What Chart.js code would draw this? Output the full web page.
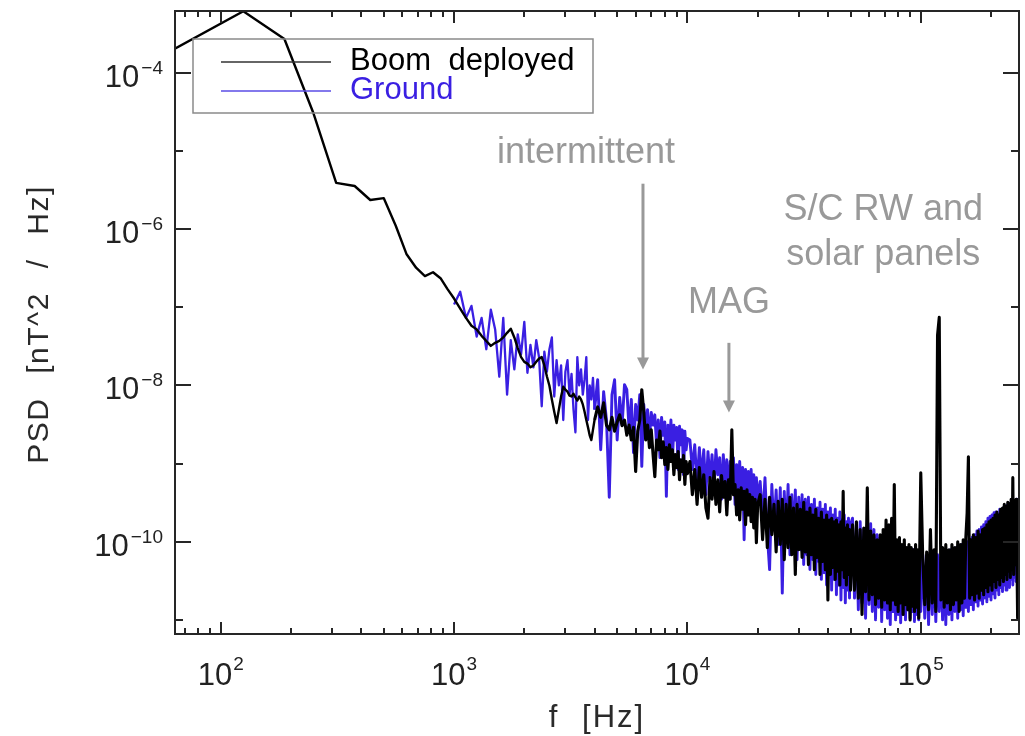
<!DOCTYPE html>
<html>
<head>
<meta charset="utf-8">
<script src="https://cdn.jsdelivr.net/npm/chart.js@4"></script>
<style>
html,body{margin:0;padding:0;background:#ffffff;}
canvas{display:block;}
</style>
</head>
<body>
<canvas id="c" width="1025" height="736"></canvas>
<script>
// ---------------- DATA (frequency in Hz, PSD in nT^2/Hz) ----------------
const freqLow = [62.5, 125, 187.5, 250, 312.5, 375, 437.5, 500, 562.5, 625, 687.5, 750, 812.5, 875, 937.5];
const boomLow = [1.97e-4, 6.1e-4, 2.7e-4, 3.0e-5, 3.9e-6, 3.55e-6, 2.35e-6, 2.48e-6, 1.1e-6, 4.8e-7, 3.2e-7, 2.5e-7, 2.8e-7, 2.35e-7, 1.7e-7];

const freqA = [1000, 1062.5, 1125, 1187.5, 1250, 1312.5, 1375, 1437.5, 1500, 1562.5, 1625, 1687.5, 1750, 1812.5, 1875, 1937.5, 2000, 2062.5, 2125, 2187.5, 2250, 2312.5, 2375, 2437.5, 2500, 2562.5, 2625, 2687.5, 2750, 2812.5, 2875, 2937.5, 3000, 3062.5, 3125, 3187.5, 3250, 3312.5, 3375, 3437.5, 3500, 3562.5, 3625, 3687.5, 3750, 3812.5, 3875, 3937.5, 4000];
const boomA = [1.29e-7, 9.6e-8, 7.3e-8, 5.8e-8, 5.2e-8, 4.3e-8, 3.7e-8, 3.2e-8, 3.5e-8, 3.7e-8, 4.1e-8, 4.7e-8, 5.3e-8, 4.1e-8, 3.0e-8, 2.3e-8, 2.0e-8, 1.9e-8, 1.7e-8, 1.8e-8, 2.0e-8, 2.2e-8, 2.3e-8, 1.8e-8, 1.3e-8, 9.9e-9, 6.6e-9, 4.6e-9, 3.3e-9, 4.9e-9, 7.2e-9, 9.6e-9, 8.8e-9, 8.3e-9, 7.4e-9, 7.2e-9, 7.8e-9, 7.0e-9, 6.4e-9, 7.2e-9, 6.6e-9, 5.7e-9, 4.6e-9, 3.6e-9, 2.9e-9, 2.3e-9, 2.0e-9, 2.7e-9, 3.6e-9];
const groundA = [1.08e-7, 1.58e-7, 7.3e-8, 1.04e-7, 4.2e-8, 7.3e-8, 2.9e-8, 9.3e-8, 5.2e-8, 1.29e-8, 7.3e-8, 7.6e-9, 3.8e-8, 1.6e-8, 4.5e-8, 2.5e-8, 6.5e-8, 1.45e-8, 3.3e-8, 1.7e-8, 3.8e-8, 2.3e-8, 5.4e-9, 2.7e-8, 1.5e-8, 2.9e-8, 4.1e-8, 7.2e-9, 2.1e-8, 1.0e-8, 1.8e-8, 3.6e-9, 1.5e-8, 2.1e-8, 7.6e-9, 1.4e-8, 4.9e-9, 2.5e-9, 2.3e-8, 1.0e-8, 1.6e-8, 7.6e-9, 1.2e-8, 2.3e-8, 3.6e-9, 1.0e-8, 6.6e-9, 1.25e-8, 4.9e-9];

const freqB = [4125, 4250, 4375, 4500, 4625, 4750, 4875, 5000, 5125, 5250, 5375, 5500, 5625, 5750, 5875, 6000, 6125, 6250, 6375, 6500, 6625, 6750, 6875, 7000, 7125, 7250, 7375, 7500, 7625, 7750, 7875, 8000, 8125, 8250, 8375, 8500, 8625, 8750, 8875, 9000, 9125, 9250, 9375, 9500, 9625, 9750, 9875, 10000];
const boomB = [5.3e-9, 3.9e-9, 6.0e-9, 3.1e-9, 2.7e-9, 3.9e-9, 2.6e-9, 3.4e-9, 4.2e-9, 3.05e-9, 3.6e-9, 2.3e-9, 3.1e-9, 2.0e-9, 2.9e-9, 7.9e-10, 2.6e-9, 3.6e-9, 8.8e-9, 4.6e-9, 2.0e-9, 3.1e-9, 1.6e-9, 2.7e-9, 1.3e-9, 6.8e-10, 2.0e-9, 1.5e-9, 2.6e-9, 1.19e-9, 1.9e-9, 9.7e-10, 1.6e-9, 8.4e-10, 1.74e-9, 1.06e-9, 1.5e-9, 7.2e-10, 1.3e-9, 8.9e-10, 1.42e-9, 6.2e-10, 1.12e-9, 7.9e-10, 1.27e-9, 5.4e-10, 1.06e-9, 7.4e-10];
const groundB = [1.18e-8, 1.5e-9, 8.3e-9, 3.6e-9, 3.7e-10, 7.6e-9, 1.18e-8, 2.0e-9, 7.0e-9, 3.1e-9, 1.02e-8, 8.8e-9, 2.7e-9, 6.6e-9, 1.38e-9, 5.7e-9, 3.6e-9, 7.6e-9, 9.2e-10, 5.7e-9, 2.7e-9, 4.9e-9, 2.0e-9, 4.5e-9, 3.1e-9, 4.2e-9, 1.74e-9, 3.6e-9, 1.19e-9, 3.9e-9, 2.3e-9, 3.4e-9, 3.8e-10, 3.1e-9, 1.74e-9, 3.6e-9, 1.06e-9, 3.1e-9, 2.0e-9, 2.9e-9, 8.4e-10, 3.0e-9, 1.74e-9, 2.7e-9, 7.2e-10, 2.6e-9, 1.5e-9, 2.1e-9];

const freqC = [10250, 10500, 10750, 11000, 11250, 11500, 11750, 12000, 12250, 12500, 12750, 13000, 13250, 13500, 13750, 14000, 14250, 14500, 14750, 15000, 15250, 15500, 15750, 16000, 16250, 16500, 16750, 17000, 17250, 17500, 17750, 18000, 18250, 18500, 18750, 19000, 19250, 19500, 19750, 20000];
const boomC = [1.06e-9, 4.0e-10, 8.4e-10, 3.0e-10, 8.9e-10, 3.7e-10, 7.2e-10, 2.7e-10, 2.0e-10, 6.6e-10, 3.5e-10, 7.9e-10, 3.0e-10, 6.2e-10, 2.4e-10, 7.0e-10, 3.7e-10, 5.9e-10, 2.2e-10, 6.2e-10, 3.5e-10, 2.7e-9, 4.0e-10, 5.4e-10, 2.2e-10, 4.6e-10, 1.9e-10, 4.9e-10, 2.6e-10, 4.4e-10, 1.65e-10, 4.6e-10, 2.2e-10, 4.0e-10, 1.8e-10, 3.7e-10, 1.5e-10, 3.5e-10, 9.7e-11, 3.0e-10];
const groundC = [2.0e-9, 8.4e-10, 1.74e-9, 5.4e-10, 1.6e-9, 6.6e-10, 1.5e-9, 4.0e-10, 1.42e-9, 5.9e-10, 1.3e-9, 4.6e-10, 1.5e-9, 7.2e-10, 1.19e-9, 3.5e-10, 1.3e-9, 5.4e-10, 1.12e-9, 4.0e-10, 1.06e-9, 6.2e-10, 1.19e-9, 3.0e-10, 9.7e-10, 4.6e-10, 1.06e-9, 3.5e-10, 8.9e-10, 1.06e-10, 8.4e-10, 4.0e-10, 7.9e-10, 3.0e-10, 8.4e-10, 3.7e-10, 7.2e-10, 2.2e-10, 6.6e-10, 3.5e-10];

const freqD = [20500, 21000, 21500, 22000, 22500, 23000, 23500, 24000, 24500, 25000, 25500, 26000, 26500, 27000, 27500, 28000, 28500, 29000, 29500, 30000, 30500, 31000, 31500, 32000, 32500, 33000, 33500, 34000, 34500, 35000, 35500, 36000, 36500, 37000, 37500, 38000, 38500, 39000, 39500, 40000, 40500, 41000, 41500, 42000, 42500, 43000, 43500, 44000, 44500, 45000, 45500, 46000, 46500, 47000, 47500, 48000, 48500, 49000, 49500, 50000];
const boomD = [4.0e-10, 1.06e-10, 3.5e-10, 8.4e-11, 3.7e-10, 1.23e-10, 3.0e-10, 7.4e-11, 3.3e-10, 9.2e-11, 3.5e-10, 5.9e-11, 3.0e-10, 8.4e-11, 3.7e-10, 6.8e-11, 2.7e-10, 3.8e-11, 3.0e-10, 7.9e-11, 2.6e-10, 6.3e-11, 3.2e-10, 7.4e-11, 2.4e-10, 5.1e-11, 2.7e-10, 6.8e-11, 2.2e-10, 4.4e-11, 2.6e-10, 6.3e-11, 2.0e-10, 3.8e-11, 2.4e-10, 5.6e-11, 1.9e-10, 4.4e-11, 2.2e-10, 1.8e-11, 1.9e-10, 3.8e-11, 2.0e-10, 4.7e-11, 1.8e-10, 3.3e-11, 1.9e-10, 4.2e-11, 1.65e-10, 2.8e-11, 1.8e-10, 4.4e-11, 4.4e-10, 3.5e-11, 1.5e-10, 2.8e-11, 1.65e-10, 3.8e-11, 1.43e-10, 2.4e-11];
const groundD = [5.9e-10, 1.9e-10, 6.6e-10, 1.23e-10, 4.4e-11, 5.4e-10, 1.43e-10, 4.6e-10, 9.2e-11, 4.9e-10, 2.2e-11, 4.4e-10, 1.06e-10, 5.4e-10, 6.8e-11, 4.0e-10, 9.2e-11, 4.6e-10, 5.9e-11, 3.7e-10, 7.9e-11, 4.0e-10, 5.1e-11, 3.5e-10, 6.8e-11, 3.7e-10, 4.4e-11, 3.0e-10, 5.9e-11, 3.5e-10, 3.8e-11, 2.7e-10, 5.6e-11, 3.2e-10, 3.3e-11, 2.6e-10, 4.0e-11, 3.0e-10, 2.8e-11, 2.4e-10, 3.8e-11, 2.7e-10, 2.4e-11, 2.2e-10, 3.3e-11, 2.6e-10, 2.1e-11, 2.0e-10, 2.8e-11, 2.4e-10, 1.8e-11, 1.9e-10, 2.6e-11, 2.2e-10, 1.65e-11, 1.8e-10, 2.4e-11, 2.0e-10, 1.9e-11, 1.65e-10];

const freqE = [51000, 52000, 53000, 54000, 55000, 56000, 57000, 58000, 59000, 60000, 61000, 62000, 63000, 64000, 65000, 66000, 67000, 68000, 69000, 70000, 71000, 72000, 73000, 74000, 75000, 76000, 77000, 78000, 79000, 80000, 81000, 82000, 83000, 84000, 85000, 86000, 87000, 88000, 89000, 90000, 91000, 92000, 93000, 94000, 95000, 96000, 97000, 98000, 99000, 100000];
const boomE = [1.65e-10, 2.4e-11, 1.8e-10, 1.9e-11, 1.43e-10, 1.17e-11, 1.5e-10, 2.3e-11, 4.9e-10, 1.8e-11, 1.37e-10, 2.1e-11, 1.23e-10, 1.57e-11, 1.06e-10, 1.9e-11, 1.23e-10, 1.45e-11, 1.43e-10, 1.8e-11, 1.9e-10, 1.65e-11, 1.65e-10, 1.35e-11, 2.0e-10, 1.8e-11, 5.4e-10, 1.57e-11, 1.06e-10, 1.28e-11, 1.13e-10, 1.65e-11, 9.2e-11, 1.17e-11, 1.06e-10, 1.57e-11, 8.4e-11, 1.35e-11, 9.2e-11, 1.0e-11, 8.4e-11, 1.5e-11, 7.9e-11, 1.28e-11, 9.2e-11, 1.45e-11, 7.9e-11, 1.05e-11, 8.4e-11, 7.6e-10];
const groundE = [2.0e-10, 1.9e-11, 1.65e-10, 1.35e-11, 1.8e-10, 1.65e-11, 1.43e-10, 1.05e-11, 1.6e-10, 1.57e-11, 1.7e-10, 1.28e-11, 1.43e-10, 1.0e-11, 1.23e-10, 1.45e-11, 1.13e-10, 9.5e-12, 1.06e-10, 1.35e-11, 1.0e-10, 1.05e-11, 9.2e-11, 8.7e-12, 8.4e-11, 1.28e-11, 9.2e-11, 1.0e-11, 7.9e-11, 1.17e-11, 8.4e-11, 9.2e-12, 7.4e-11, 1.28e-11, 7.9e-11, 1.0e-11, 6.8e-11, 1.35e-11, 7.4e-11, 1.05e-11, 6.8e-11, 1.28e-11, 7.9e-11, 9.5e-12, 6.7e-11, 1.17e-11, 7.4e-11, 1.0e-11, 6.8e-11, 1.28e-11];

const freqF = [102000, 104000, 106000, 108000, 110000, 112000, 114000, 116000, 118000, 120000, 122000, 124000, 126000, 128000, 130000, 132000, 134000, 136000, 138000, 140000, 142000, 144000, 146000, 148000, 150000, 152000, 154000, 156000, 158000, 160000, 162000, 164000, 166000, 168000, 170000, 172000, 174000, 176000, 178000, 180000, 182000, 184000, 186000, 188000, 190000, 192000, 194000, 196000, 198000, 200000, 202000, 204000, 206000, 208000, 210000, 212000, 214000, 216000, 218000, 220000, 222000, 224000, 226000, 228000, 230000, 232000, 234000, 236000, 238000, 240000, 242000, 244000, 246000, 248000, 250000, 252000, 254000, 256000, 258000, 260000, 262000];
const boomF = [5.9e-11, 1.57e-11, 7.4e-11, 1.35e-11, 1.43e-10, 1.65e-11, 7.9e-11, 1.28e-11, 4.4e-8, 7.4e-8, 1.8e-11, 8.4e-11, 1.45e-11, 9.2e-11, 1.65e-11, 7.9e-11, 1.35e-11, 9.2e-11, 1.57e-11, 8.4e-11, 1.8e-11, 1.0e-10, 1.28e-11, 9.2e-11, 1.65e-11, 1.06e-10, 1.9e-11, 1.13e-10, 2.35e-10, 1.22e-9, 1.9e-11, 1.06e-10, 2.1e-11, 1.23e-10, 1.8e-11, 1.13e-10, 2.2e-11, 1.37e-10, 1.9e-11, 1.23e-10, 2.4e-11, 1.43e-10, 2.1e-11, 1.5e-10, 2.6e-11, 1.65e-10, 2.3e-11, 1.8e-10, 2.8e-11, 1.9e-10, 2.4e-11, 2.0e-10, 3.1e-11, 2.2e-10, 2.6e-11, 2.4e-10, 3.3e-11, 2.2e-10, 2.8e-11, 2.6e-10, 3.5e-11, 2.7e-10, 3.1e-11, 3.0e-10, 3.8e-11, 2.8e-10, 3.3e-11, 3.2e-10, 4.2e-11, 3.0e-10, 3.5e-11, 3.5e-10, 4.4e-11, 6.6e-10, 3.8e-11, 3.0e-10, 5.1e-11, 3.5e-10, 8.4e-11, 1.05e-11, 1.07e-11];
const groundF = [6.8e-11, 1.05e-11, 6.3e-11, 8.7e-12, 7.4e-11, 1.17e-11, 5.9e-11, 9.5e-12, 6.8e-11, 1.28e-11, 6.3e-11, 1.0e-11, 7.4e-11, 8.7e-12, 6.8e-11, 1.17e-11, 7.9e-11, 1.0e-11, 7.2e-11, 1.28e-11, 8.4e-11, 1.05e-11, 7.9e-11, 1.35e-11, 9.2e-11, 1.13e-11, 8.4e-11, 1.45e-11, 1.0e-10, 1.28e-11, 1.06e-10, 1.57e-11, 1.13e-10, 1.35e-11, 1.23e-10, 1.7e-11, 1.37e-10, 1.5e-11, 1.43e-10, 1.8e-11, 1.55e-10, 1.6e-11, 1.65e-10, 1.9e-11, 1.8e-10, 1.7e-11, 2.0e-10, 2.0e-11, 2.1e-10, 1.8e-11, 2.2e-10, 2.15e-11, 2.35e-10, 1.9e-11, 2.4e-10, 2.4e-11, 2.2e-10, 2.1e-11, 2.6e-10, 2.6e-11, 2.4e-10, 2.3e-11, 2.7e-10, 2.8e-11, 2.6e-10, 2.4e-11, 2.9e-10, 3.1e-11, 2.7e-10, 2.6e-11, 3.1e-10, 3.3e-11, 2.9e-10, 2.8e-11, 3.3e-10, 3.5e-11, 3.0e-10, 3.1e-11, 3.5e-10, 3.8e-11, 3.0e-10];

// tick labels (base 10 with superscript exponent)
const xTickValues = [1e2, 1e3, 1e4, 1e5];
const xTickExp = ['2', '3', '4', '5'];
const yTickValues = [1e-4, 1e-6, 1e-8, 1e-10];
const yTickExp = ['\u22124', '\u22126', '\u22128', '\u221210'];

// annotations (anchors in data space: Hz, nT^2/Hz)
const noteText = ['intermittent', 'MAG', 'S/C RW and', 'solar panels'];
const noteFreq = [3675, 15060, 69100, 69100];
const notePsd = [7.05e-6, 8.5e-8, 1.31e-6, 3.5e-7];
const arrowFreq = [6450, 15060];
const arrowFrom = [3.8e-6, 3.5e-8];
const arrowTo = [1.59e-8, 4.5e-9];

// axis ranges
const X_MIN = 63.7, X_MAX = 263600;
const Y_MIN = 6.6e-12, Y_MAX = 6.15e-4;

// ---------------- styling ----------------
const BOOM_COLOR = '#000000';
const GROUND_COLOR = '#3a1fe2';
const AXIS_COLOR = '#262626';
const NOTE_COLOR = '#999999';
const FONT = '"Liberation Sans", Arial, Helvetica, sans-serif';

function pts(f, v) { return f.map((x, i) => ({ x: x, y: v[i] })); }
const boomFreq = freqLow.concat(freqA, freqB, freqC, freqD, freqE, freqF);
const boomVals = boomLow.concat(boomA, boomB, boomC, boomD, boomE, boomF);
const groundFreq = freqA.concat(freqB, freqC, freqD, freqE, freqF);
const groundVals = groundA.concat(groundB, groundC, groundD, groundE, groundF);

const frame = {
  id: 'frame',
  afterDraw(chart) {
    const ctx = chart.ctx, a = chart.chartArea, x = chart.scales.x, y = chart.scales.y;
    ctx.save();
    ctx.strokeStyle = AXIS_COLOR;
    ctx.lineWidth = 2;
    ctx.lineCap = 'butt';
    const seg = (x1, y1, x2, y2) => { ctx.beginPath(); ctx.moveTo(x1, y1); ctx.lineTo(x2, y2); ctx.stroke(); };
    ctx.strokeRect(a.left, a.top, a.right - a.left, a.bottom - a.top);

    // x ticks (bottom + top, inward)
    const ex0 = Math.floor(Math.log10(x.min)), ex1 = Math.ceil(Math.log10(x.max));
    for (let e = ex0; e <= ex1; e++) {
      for (let m = 1; m < 10; m++) {
        const v = m * Math.pow(10, e);
        if (v <= x.min || v >= x.max) continue;
        const p = Math.round(x.getPixelForValue(v));
        const len = m === 1 ? 12 : 6;
        seg(p, a.bottom, p, a.bottom - len);
        seg(p, a.top, p, a.top + len);
      }
    }
    // y ticks (left + right, inward)
    const ey0 = Math.ceil(Math.log10(y.min)), ey1 = Math.floor(Math.log10(y.max));
    for (let e = ey0; e <= ey1; e++) {
      const p = Math.round(y.getPixelForValue(Math.pow(10, e)));
      const len = (Math.abs(e) % 2 === 0) ? 16 : 8;
      seg(a.left, p, a.left + len, p);
      seg(a.right, p, a.right - len, p);
    }

    // tick labels
    ctx.fillStyle = '#222222';
    ctx.textBaseline = 'alphabetic';
    ctx.textAlign = 'left';
    const big = '31px ' + FONT, small = '19px ' + FONT;
    xTickValues.forEach((v, i) => {
      const p = x.getPixelForValue(v);
      ctx.font = big; const w1 = ctx.measureText('10').width;
      ctx.font = small; const w2 = ctx.measureText(xTickExp[i]).width;
      const left = p - (w1 + 1 + w2) / 2;
      ctx.font = big; ctx.fillText('10', left, a.bottom + 51);
      ctx.font = small; ctx.fillText(xTickExp[i], left + w1 + 1, a.bottom + 36);
    });
    yTickValues.forEach((v, i) => {
      const p = y.getPixelForValue(v);
      const right = a.left - 12;
      ctx.font = small; const w2 = ctx.measureText(yTickExp[i]).width;
      ctx.font = big; const w1 = ctx.measureText('10').width;
      ctx.fillText('10', right - w2 - 2 - w1, p + 14);
      ctx.font = small; ctx.fillText(yTickExp[i], right - w2, p + 1);
    });

    // axis titles
    ctx.fillStyle = '#2a2a2a';
    ctx.font = '31px ' + FONT;
    ctx.textAlign = 'center';
    try { ctx.letterSpacing = '2px'; ctx.wordSpacing = '12px'; } catch (err) {}
    ctx.fillText('f [Hz]', (a.left + a.right) / 2, a.bottom + 93);
    ctx.save();
    ctx.translate(48, (a.top + a.bottom) / 2 + 2);
    ctx.rotate(-Math.PI / 2);
    ctx.font = '30px ' + FONT;
    try { ctx.letterSpacing = '1.5px'; ctx.wordSpacing = '14px'; } catch (err) {}
    ctx.fillText('PSD [nT^2 / Hz]', 0, 0);
    ctx.restore();
    try { ctx.letterSpacing = '0px'; ctx.wordSpacing = '0px'; } catch (err) {}

    // legend (inside plot, unfilled box)
    const bx = a.left + 18, by = a.top + 28;
    ctx.strokeStyle = '#8a8a8a';
    ctx.lineWidth = 1.5;
    ctx.strokeRect(bx, by, 400, 74);
    ctx.textAlign = 'left';
    ctx.font = '31px ' + FONT;
    chart.data.datasets.forEach((ds, i) => {
      const ly = by + 23 + i * 29;
      ctx.strokeStyle = i === 0 ? '#333333' : '#5a4de6';
      ctx.lineWidth = 1.3;
      seg(bx + 28, ly, bx + 138, ly);
      ctx.fillStyle = ds.borderColor;
      try { ctx.wordSpacing = '9px'; } catch (err) {}
      ctx.fillText(ds.label, bx + 157, ly + 8);
      try { ctx.wordSpacing = '0px'; } catch (err) {}
    });

    // annotations
    ctx.fillStyle = NOTE_COLOR;
    ctx.strokeStyle = NOTE_COLOR;
    ctx.font = '36px ' + FONT;
    ctx.textAlign = 'center';
    noteText.forEach((t, i) => {
      ctx.fillText(t, x.getPixelForValue(noteFreq[i]), y.getPixelForValue(notePsd[i]));
    });
    arrowFreq.forEach((f, i) => {
      const px = x.getPixelForValue(f);
      const y0 = y.getPixelForValue(arrowFrom[i]);
      const y1 = y.getPixelForValue(arrowTo[i]);
      ctx.lineWidth = 3;
      seg(px, y0, px, y1 - 10);
      ctx.beginPath();
      ctx.moveTo(px - 6, y1 - 12);
      ctx.lineTo(px + 6, y1 - 12);
      ctx.lineTo(px, y1);
      ctx.closePath();
      ctx.fill();
    });
    ctx.restore();
  }
};

new Chart(document.getElementById('c'), {
  type: 'line',
  data: {
    datasets: [
      { label: 'Boom deployed', data: pts(boomFreq, boomVals), borderColor: BOOM_COLOR, backgroundColor: BOOM_COLOR,
        borderWidth: 2.4, pointRadius: 0, tension: 0, order: 0, clip: 0, borderJoinStyle: 'round', fill: false,
        segment: { borderWidth: c => (c.p0.parsed.x >= 4000 ? 3.1 : 2.4) } },
      { label: 'Ground', data: pts(groundFreq, groundVals), borderColor: GROUND_COLOR, backgroundColor: GROUND_COLOR,
        borderWidth: 2.3, pointRadius: 0, tension: 0, order: 1, clip: 0, borderJoinStyle: 'round', fill: false,
        segment: { borderWidth: c => (c.p0.parsed.x >= 4000 ? 2.9 : 2.3) } }
    ]
  },
  options: {
    responsive: false,
    animation: false,
    devicePixelRatio: 1,
    events: [],
    layout: { padding: { top: 11, right: 6, left: 0, bottom: 0 } },
    plugins: { legend: { display: false }, tooltip: { enabled: false }, title: { display: false } },
    scales: {
      x: { type: 'logarithmic', position: 'bottom', min: X_MIN, max: X_MAX, bounds: 'data',
           grid: { display: false }, border: { display: false }, ticks: { display: false },
           afterFit: s => { s.height = 102; } },
      y: { type: 'logarithmic', position: 'left', min: Y_MIN, max: Y_MAX, bounds: 'data',
           grid: { display: false }, border: { display: false }, ticks: { display: false },
           afterFit: s => { s.width = 175; } }
    }
  },
  plugins: [frame]
});
</script>
</body>
</html>
